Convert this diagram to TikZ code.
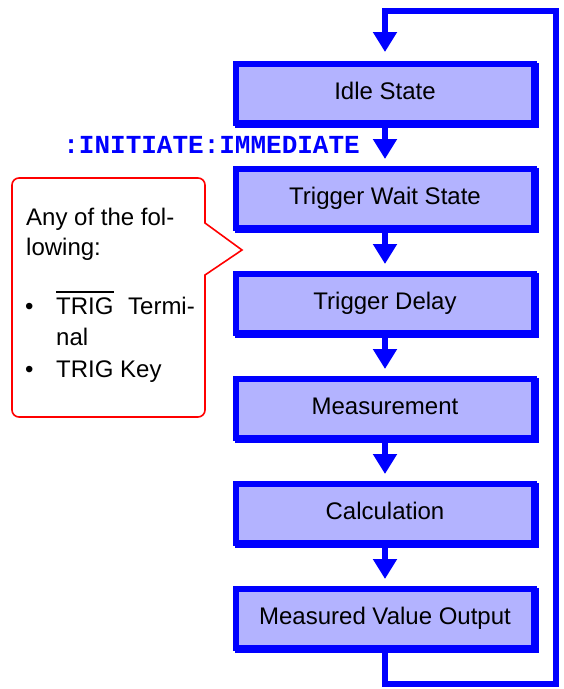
\documentclass[tikz,border=0pt]{standalone}
\usepackage{fontspec}
\setmainfont{Liberation Sans}
\setmonofont{Liberation Mono}
\usetikzlibrary{arrows.meta, backgrounds}
\definecolor{estadofill}{RGB}{179,179,255}

\begin{document}
\begin{tikzpicture}[x=1pt, y=-1pt,
        estado/.style={draw=blue, line width=6pt, fill=estadofill, minimum width=298pt, minimum height=59pt,
            inner sep=0pt, text height=17pt, text depth=5pt, font=\fontsize{24}{28}\selectfont},
        fluxo/.style={draw=blue, line width=5.5pt, -{Triangle[width=23pt, length=20pt]}, shorten >=7pt},
        balao/.style={draw=red, line width=1.6pt},
        textobalao/.style={anchor=base west, inner sep=0pt, font=\fontsize{24}{28}\selectfont}]
        \useasboundingbox (0,0) rectangle (564,689);
        % Estados
        \node[estado] (idle) at (385,93.5) {Idle State};
        \node[estado] (espera) at (385,198.5) {Trigger Wait State};
        \node[estado] (atraso) at (385,303.5) {Trigger Delay};
        \node[estado] (medida) at (385,408.5) {Measurement};
        \node[estado] (calculo) at (385,513.5) {Calculation};
        \node[estado] (saida) at (385,618.5) {Measured Value Output};
        % Sombras
        \begin{scope}[on background layer]
            \foreach \n in {idle, espera, atraso, medida, calculo, saida}
                \fill[blue] ([shift={(2pt,-2pt)}]\n.north west) rectangle ([shift={(2pt,-2pt)}]\n.south east);
        \end{scope}
        % Setas entre estados
        \foreach \a/\b in {idle/espera, espera/atraso, atraso/medida, medida/calculo, calculo/saida}
            \draw[fluxo] (\a.south) -- (\b.north);
        % Retorno
        \coordinate (cantoinf) at (556,684);
        \coordinate (cantosup) at (556,11);
        \draw[fluxo, shorten >=9pt] (saida.south) |- (cantoinf) -- (cantosup) -| (idle.north);
        % Comando
        \node[anchor=base east, inner sep=0pt, text=blue, font=\ttfamily\bfseries\fontsize{26}{30}\selectfont] (comando) at (360,153) {:INITIATE:IMMEDIATE};
        % Balao
        \draw[balao] (12,300) [rounded corners=7pt] -- (12,178) -- (205,178) -- (205,200) [sharp corners] -- (205,223)
            -- (242,250) -- (205,275) -- (205,300) [rounded corners=7pt] -- (205,417) -- (12,417) -- cycle;
        \node[textobalao] (linhaA) at (26,225) {Any of the fol-};
        \node[textobalao] (linhaB) at (26,255) {lowing:};
        \node[textobalao] (marcaA) at (25,314) {\textbullet};
        \node[textobalao] (trigA) at (56,314) {TRIG};
        \node[textobalao, anchor=base east] (termi) at (195,314) {Termi-};
        \node[textobalao] (linhaC) at (56,345) {nal};
        \node[textobalao] (marcaB) at (25,377) {\textbullet};
        \node[textobalao] (trigB) at (56,377) {TRIG Key};
        \draw[line width=1.5pt] ([yshift=5pt]trigA.north west) -- ([yshift=5pt]trigA.north east);
    \end{tikzpicture}
\end{document}
